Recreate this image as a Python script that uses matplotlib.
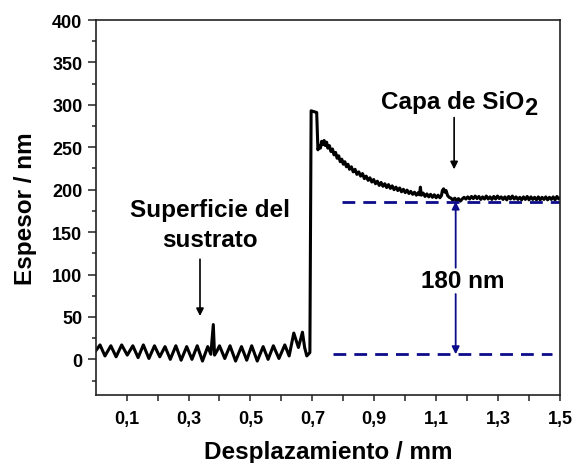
import numpy as np
import matplotlib
matplotlib.use("Agg")
import matplotlib.pyplot as plt
from matplotlib.ticker import MultipleLocator, FixedLocator

# ---- Data ----
# substrate surface (x in mm, thickness in nm)
sub_x = [0.0, 0.014, 0.03, 0.049, 0.066, 0.084, 0.102, 0.12, 0.137, 0.154, 0.172,
         0.19, 0.207, 0.224, 0.241, 0.259, 0.276, 0.294, 0.311, 0.328, 0.345,
         0.362, 0.372, 0.38, 0.384, 0.392, 0.4, 0.417, 0.434, 0.452, 0.471,
         0.488, 0.504, 0.522, 0.541, 0.557, 0.574, 0.592, 0.611, 0.625, 0.64,
         0.655, 0.668, 0.675, 0.682, 0.692]
sub_y = [10, 17, 4, 16, 3, 17, 5, 16, 2, 17, 1,
         16, 3, 15, 0, 16, -1, 15, 0, 16, -2,
         15, 6, 41, 5, 10, 16, 1, 16, -2, 15,
         -1, 16, -2, 15, 0, 16, 1, 17, 4, 31,
         14, 32, 14, 4, 8]

# step edge and SiO2 layer
film_x = [0.696, 0.714, 0.718, 0.722, 0.726, 0.73, 0.734, 0.738, 0.742, 0.746,
          0.75, 0.755, 0.76, 0.765, 0.77, 0.775, 0.78, 0.785, 0.79, 0.795,
          0.8, 0.805, 0.81, 0.815, 0.82, 0.826, 0.832, 0.838, 0.844, 0.85,
          0.856, 0.862, 0.868, 0.874, 0.88, 0.886, 0.892, 0.898, 0.904, 0.91,
          0.916, 0.922, 0.928, 0.934, 0.94, 0.946, 0.952, 0.958, 0.964, 0.97,
          0.976, 0.982, 0.988, 0.994, 1.0, 1.006, 1.012, 1.018, 1.024, 1.03,
          1.036, 1.042, 1.046, 1.049, 1.052, 1.058, 1.064, 1.07, 1.076, 1.082,
          1.088, 1.094, 1.1, 1.106, 1.112, 1.117, 1.12, 1.124, 1.128, 1.132,
          1.137, 1.142, 1.148, 1.154, 1.16, 1.166, 1.172, 1.178, 1.184, 1.19,
          1.196, 1.202, 1.208, 1.214, 1.22, 1.226, 1.232, 1.238, 1.244, 1.25,
          1.256, 1.262, 1.268, 1.274, 1.28, 1.286, 1.292, 1.298, 1.304, 1.31,
          1.316, 1.322, 1.328, 1.334, 1.34, 1.346, 1.352, 1.358, 1.364, 1.37,
          1.376, 1.382, 1.388, 1.394, 1.4, 1.406, 1.412, 1.418, 1.424, 1.43,
          1.436, 1.442, 1.448, 1.454, 1.46, 1.466, 1.472, 1.478, 1.484, 1.49,
          1.496, 1.5]
film_y = [293, 291, 247, 252, 249, 257, 253, 258, 252, 256,
          249, 252, 245, 248, 241, 244, 237, 240, 233, 236,
          230, 233, 227, 230, 224, 227, 221, 224, 218, 221,
          216, 219, 213, 216, 211, 214, 209, 212, 207, 210,
          205, 208.5, 204, 207, 202.5, 206, 201.5, 204.5, 200, 203,
          199, 202, 197.5, 200.5, 196.5, 199.5, 195.5, 198, 194.5, 197,
          193.5, 196.5, 194, 203, 193.5, 196, 192, 195, 191.5, 194.5,
          191, 194, 190.5, 193.5, 190.5, 193, 199, 201, 197, 199,
          193, 191, 190, 187.5, 190, 187, 189.5, 186.5, 189, 191,
          189, 191.5, 189, 192, 189.5, 192.5, 189.5, 192, 188.5, 191.5,
          189, 192.5, 189, 191.5, 188.5, 192, 189, 192.5, 189.5, 191.5,
          188.5, 191.5, 188, 192, 189, 192.5, 189, 191.5, 188.5, 191,
          188, 191.5, 188.5, 192, 188, 191.5, 188.5, 191, 188, 191.5,
          188, 191, 188.5, 191.5, 188, 191, 188.5, 191.5, 188, 192,
          189, 190]

# step height guides
top_level = 186
base_level = 6
top_line_x = [0.795, 1.5]
base_line_x = [0.767, 1.474]
step_x = 1.163
step_label = "180 nm"

X_TICKS = [0.1, 0.3, 0.5, 0.7, 0.9, 1.1, 1.3, 1.5]
X_LABELS = ["0,1", "0,3", "0,5", "0,7", "0,9", "1,1", "1,3", "1,5"]

BLUE = "#0c0c8a"

plt.rcParams["font.family"] = ["Liberation Sans", "DejaVu Sans"]
plt.rcParams["font.weight"] = "bold"


def main():
    fig = plt.figure(figsize=(5.75, 4.64), dpi=100)
    ax = fig.add_axes([0.1664, 0.1466, 0.8075, 0.8081])

    x = np.array(sub_x + film_x)
    y = np.array(sub_y + film_y)
    ax.plot(x, y, color="black", lw=2.2, solid_joinstyle="round")

    # dashed reference levels
    ax.plot(top_line_x, [top_level, top_level], color=BLUE, lw=2.0, dashes=(4.6, 2.9))
    ax.plot(base_line_x, [base_level, base_level], color=BLUE, lw=2.0, dashes=(4.6, 2.9))

    # step height double arrow with label in the gap
    arrow_kw = dict(arrowstyle="-|>", color=BLUE, lw=1.3, mutation_scale=11,
                    shrinkA=0, shrinkB=0)
    ax.annotate("", xy=(step_x, top_level), xytext=(step_x, 108), arrowprops=arrow_kw)
    ax.annotate("", xy=(step_x, base_level), xytext=(step_x, 77), arrowprops=arrow_kw)
    ax.text(1.187, 93, step_label, ha="center", va="center", fontsize=17.5, fontweight="bold")

    # labels with black arrows
    black_kw = dict(arrowstyle="-|>", color="black", lw=1.2, mutation_scale=11,
                    shrinkA=0, shrinkB=0)
    ax.text(0.369, 159, "Superficie del\nsustrato", ha="center", va="center",
            fontsize=17.5, fontweight="bold", linespacing=1.4)
    ax.annotate("", xy=(0.337, 51), xytext=(0.337, 118), arrowprops=black_kw)

    capa = ax.text(1.152, 304, "Capa de SiO", ha="center", va="center",
                   fontsize=17.5, fontweight="bold")
    # subscript "2" drawn almost full size, as in the original
    ax.annotate("2", xy=(1.0, 0.0), xycoords=capa, xytext=(0.5, -4.5),
                textcoords="offset points", ha="left", va="bottom",
                fontsize=17, fontweight="bold")
    ax.annotate("", xy=(1.158, 224), xytext=(1.158, 285), arrowprops=black_kw)

    # axes
    ax.set_xlim(0, 1.5)
    ax.set_ylim(-42, 400)
    ax.xaxis.set_major_locator(FixedLocator(X_TICKS))
    ax.set_xticklabels(X_LABELS)
    ax.xaxis.set_minor_locator(FixedLocator([0.2, 0.4, 0.6, 0.8, 1.0, 1.2, 1.4]))
    ax.yaxis.set_major_locator(MultipleLocator(50))
    ax.yaxis.set_minor_locator(MultipleLocator(25))

    ax.tick_params(axis="both", which="both", direction="out", top=False, right=False,
                   width=1.1, colors="#222222", labelcolor="black")
    ax.tick_params(axis="x", which="both", length=4, pad=7, labelsize=13)
    ax.tick_params(axis="y", which="major", length=5.5, pad=4, labelsize=13)
    ax.tick_params(axis="y", which="minor", length=3)
    for lab in ax.get_xticklabels() + ax.get_yticklabels():
        lab.set_fontweight("bold")

    for sp in ax.spines.values():
        sp.set_linewidth(1.2)
        sp.set_color("#222222")

    ax.set_xlabel("Desplazamiento / mm", fontsize=17.5, fontweight="bold", labelpad=9)
    ax.set_ylabel("Espesor / nm", fontsize=17.5, fontweight="bold", labelpad=11)

    fig.savefig("out.png", dpi=100)


if __name__ == "__main__":
    main()
